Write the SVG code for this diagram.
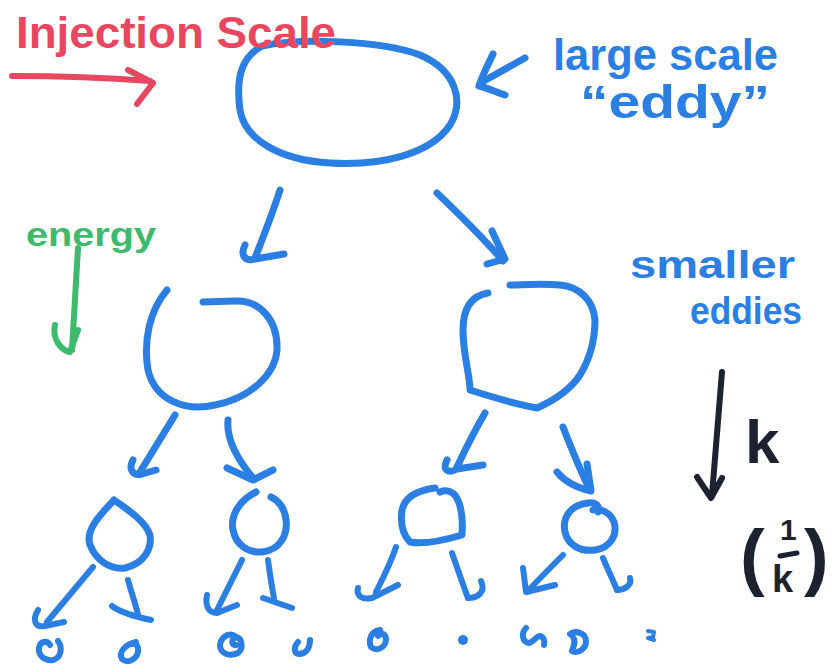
<svg xmlns="http://www.w3.org/2000/svg" width="833" height="667" viewBox="0 0 833 667">
<style>
.b{stroke:#2b7fe2;stroke-width:7;fill:none;stroke-linecap:round;stroke-linejoin:round}
.bs{stroke:#2b7fe2;stroke-width:6;fill:none;stroke-linecap:round;stroke-linejoin:round}
.r{stroke:#e8475f;stroke-width:6;fill:none;stroke-linecap:round;stroke-linejoin:round}
.g{stroke:#3dba6c;stroke-width:6;fill:none;stroke-linecap:round;stroke-linejoin:round}
.k{stroke:#1c2230;stroke-width:6;fill:none;stroke-linecap:round;stroke-linejoin:round}
.t{font-family:"Liberation Sans",Arial,sans-serif;font-weight:bold}
.tb{fill:#2b7fe2}
</style>
<rect width="833" height="667" fill="#ffffff"/>

<g id="eddy-large">
<path class="b" d="M262,46 C300,38 380,40 420,55 C455,70 465,100 450,125 C430,155 380,166 330,163 C280,160 245,140 240,110 C236,80 240,58 262,46 Z"/>
</g>

<g id="eddy-mid-left">
<path class="b" d="M167,290 C150,310 143,340 148,370 C155,400 185,412 215,405 C250,398 275,375 277,350 C278,320 260,300 235,301 L203,302"/>
</g>
<g id="eddy-mid-right">
<path class="b" d="M488,293 C470,296 463,310 463,330 C463,355 470,375 470,390 C495,398 520,405 537,408 C555,400 570,390 580,375 C592,355 595,335 595,320 C593,300 580,287 560,285 C540,283 520,285 510,285"/>
</g>

<g id="eddy-small-1"><path class="b" d="M114,500 C100,515 85,530 90,545 C96,560 110,570 125,568 C145,563 152,548 150,535 C145,520 125,508 114,500"/></g>
<g id="eddy-small-2"><path class="b" d="M256,492 C240,500 230,515 233,530 C236,545 248,553 262,552 C280,550 288,535 286,520 C285,508 278,500 271,497"/></g>
<g id="eddy-small-3"><path class="b" d="M435,488 C420,490 405,496 402,510 C400,525 403,535 410,542 C425,545 445,540 462,535 C463,520 462,505 455,495 C450,490 443,490 440,492"/></g>
<g id="eddy-small-4"><path class="b" d="M598,512 C600,505 595,502 588,503 C570,505 562,518 565,532 C568,545 580,552 595,550 C610,548 618,535 614,522 C610,512 600,508 593,510"/></g>

<g id="eddies-tiny">
<path class="bs" d="M50,645 C47,640 40,641 39,648 C38,656 45,661 53,660 C61,658 63,648 58,641"/>
<path class="bs" d="M136,642 C126,644 118,652 122,659 C127,664 136,660 138,652 C139,646 135,642 132,644"/>
<path class="bs" d="M235,636 C228,632 220,638 220,646 C221,654 230,657 238,653 C244,648 242,638 236,637 C230,640 232,646 236,645"/>
<path class="bs" d="M310,640 C310,648 306,654 299,654 C293,653 294,646 298,642"/>
<path class="bs" d="M380,630 C371,631 368,640 371,647 C376,652 385,648 386,640 C386,634 382,632 378,636"/>
<circle cx="463" cy="640" r="5" fill="#2b7fe2"/>
<path class="bs" d="M526,628 C521,633 522,642 529,643 C534,642 536,636 540,636 C544,637 545,642 544,645"/>
<path class="bs" d="M570,634 C576,630 586,633 586,641 C586,649 578,654 572,651 C574,646 576,641 573,637"/>
<path class="bs" d="M648,631 L654,632 L653,637 L648,638 L654,640" style="stroke-width:4"/>
</g>

<g id="connectors">
<path class="b" d="M280,190 C272,215 262,240 255,258"/>
<path class="b" d="M245,245 C240,255 245,262 255,259 L284,254"/>
<path class="b" d="M437,193 C460,215 485,240 503,261"/>
<path class="b" d="M492,231 L505,259 L487,264"/>

<path class="b" d="M175,415 L140,472"/>
<path class="b" d="M133,460 C128,470 133,476 142,474 L156,470"/>
<path class="b" d="M228,420 C226,440 238,460 253,478"/>
<path class="b" d="M227,468 L253,480 L273,470"/>
<path class="b" d="M485,413 C475,430 465,450 457,467"/>
<path class="b" d="M447,460 C442,470 448,474 457,469 L483,465"/>
<path class="b" d="M563,427 C570,445 580,470 590,490"/>
<path class="b" d="M557,472 C565,482 578,488 591,491 L587,464"/>

<path class="bs" d="M93,567 L47,622"/>
<path class="bs" d="M38,610 C32,620 35,628 45,626 L64,622"/>
<path class="bs" d="M128,580 C132,595 136,605 138,615"/>
<path class="bs" d="M112,606 C120,612 132,616 151,620"/>
<path class="bs" d="M242,560 L216,612"/>
<path class="bs" d="M207,595 C205,605 208,613 217,613 L237,605"/>
<path class="bs" d="M268,560 C270,575 272,588 274,598"/>
<path class="bs" d="M263,598 L292,608"/>
<path class="bs" d="M396,547 C390,565 382,580 376,592"/>
<path class="bs" d="M358,588 C356,596 362,600 372,598 L398,585"/>
<path class="bs" d="M452,553 C458,570 463,585 468,598"/>
<path class="bs" d="M468,598 C478,598 486,592 481,581"/>
<path class="bs" d="M563,555 C550,568 538,580 527,592"/>
<path class="bs" d="M523,568 L526,592 L555,585"/>
<path class="bs" d="M603,558 C608,570 613,580 617,590"/>
<path class="bs" d="M617,590 C625,590 632,585 630,578"/>

<path class="b" d="M525,58 L482,82"/>
<path class="b" d="M493,54 C488,65 482,76 479,86 C488,88 496,92 505,95"/>
</g>

<g id="label-injection">
<text class="t" x="16" y="48" font-size="44" fill="#e8475f" textLength="320" lengthAdjust="spacingAndGlyphs">Injection Scale</text>
<path class="r" d="M12,76 C60,76 110,78 150,81"/>
<path class="r" d="M128,70 L153,83 L137,104"/>
</g>

<g id="label-large">
<text class="t tb" x="553" y="70" font-size="44" textLength="225" lengthAdjust="spacingAndGlyphs">large scale</text>
<text class="t tb" x="580" y="118" font-size="46" textLength="190" lengthAdjust="spacingAndGlyphs">“eddy”</text>
</g>

<g id="label-energy">
<text class="t" x="26" y="246" font-size="34" fill="#3dba6c" textLength="130" lengthAdjust="spacingAndGlyphs">energy</text>
<path class="g" d="M78,248 C76,280 74,315 72,350"/>
<path class="g" d="M55,325 C52,338 60,350 70,352 L78,330"/>
</g>

<g id="label-smaller">
<text class="t tb" x="630" y="278" font-size="38" textLength="165" lengthAdjust="spacingAndGlyphs">smaller</text>
<text class="t tb" x="690" y="324" font-size="38" textLength="112" lengthAdjust="spacingAndGlyphs">eddies</text>
</g>

<g id="label-k">
<path class="k" d="M722,372 C719,410 716,450 712,495"/>
<path class="k" d="M697,477 L711,498 L722,478"/>
<text class="t" x="745" y="463" font-size="62" fill="#1c2230">k</text>
<text class="t" x="740" y="582" font-size="74" fill="#1c2230" font-weight="normal">(</text>
<text class="t" x="780" y="540" font-size="30" fill="#1c2230">1</text>
<path class="k" d="M780,556 L797,553" style="stroke-width:5"/>
<text class="t" x="772" y="592" font-size="38" fill="#1c2230">k</text>
<text class="t" x="804" y="582" font-size="74" fill="#1c2230" font-weight="normal">)</text>
</g>
</svg>
